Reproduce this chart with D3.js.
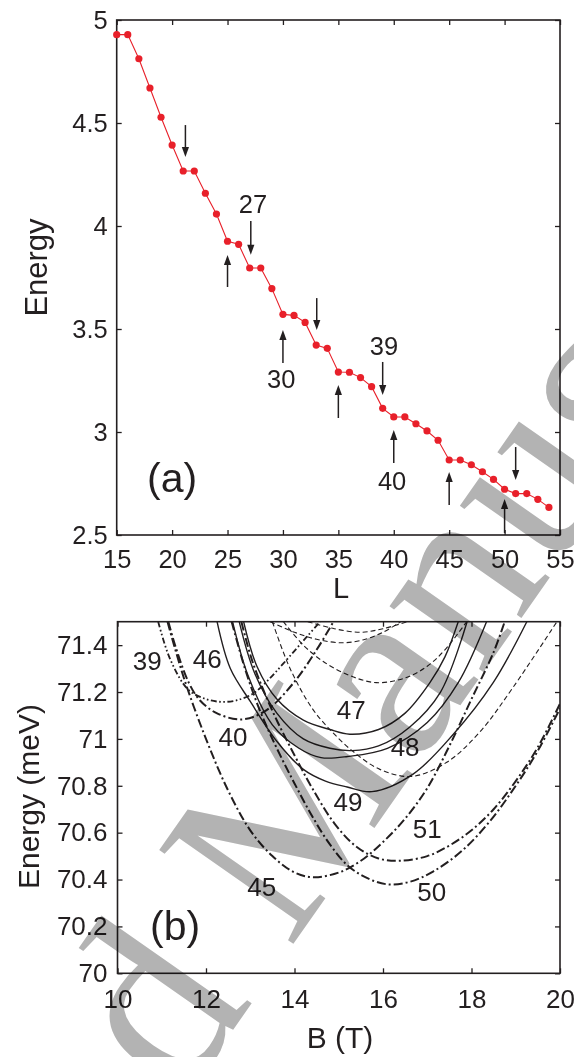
<!DOCTYPE html>
<html><head><meta charset="utf-8">
<script src="https://cdn.jsdelivr.net/npm/d3@7"></script>
<style>body{margin:0;background:#fff}svg{display:block}</style>
</head><body>
<svg id="chart" width="574" height="1057"></svg>
<script>
// ---------- Panel (a) data ----------
const angMom = [15,16,17,18,19,20,21,22,23,24,25,26,27,28,29,30,31,32,33,34,35,36,37,38,39,40,41,42,43,44,45,46,47,48,49,50,51,52,53,54];
const energyA = [4.929,4.929,4.812,4.670,4.528,4.393,4.267,4.267,4.159,4.058,3.926,3.911,3.796,3.796,3.696,3.571,3.566,3.532,3.422,3.406,3.291,3.290,3.264,3.220,3.115,3.073,3.073,3.040,3.005,2.960,2.864,2.864,2.841,2.807,2.770,2.722,2.701,2.701,2.673,2.634];
const xTicksA = [15,20,25,30,35,40,45,50,55];
const xTickLabelsA = ["15","20","25","30","35","40","45","50","55"];
const yTicksA = [2.5,3,3.5,4,4.5,5];
const yTickLabelsA = ["2.5","3","3.5","4","4.5","5"];
// arrows: position in L, start energy, end (tip) energy
const arrowL    = [21.2, 25, 27.1, 30, 33.05, 35, 39, 40, 45, 51, 50];
const arrowFrom = [4.490, 3.704, 4.024, 3.335, 3.650, 3.068, 3.340, 2.850, 2.646, 2.927, 2.510];
const arrowTo   = [4.335, 3.859, 3.860, 3.495, 3.495, 3.228, 3.180, 3.010, 2.806, 2.767, 2.675];
const arrowLabelText = ["27","30","39","40"];
const arrowLabelL    = [27.3, 29.85, 39.12, 39.85];
const arrowLabelE    = [4.063, 3.214, 3.374, 2.718];

// ---------- Panel (b) data: curves as (B, E) pairs ----------
const c45 = [[11.13,71.5],[11.5,71.26],[12.0,71.0],[12.5,70.78],[13.0,70.61],[13.5,70.5],[14.0,70.43],[14.43,70.41],[15.0,70.43],[15.5,70.48],[16.0,70.56],[16.5,70.66],[17.0,70.79],[17.5,70.97],[18.0,71.17],[18.5,71.37],[18.75,71.5]];
const c50 = [[12.58,71.5],[12.88,71.3],[13.22,71.12],[13.6,70.96],[14.0,70.81],[14.4,70.67],[14.8,70.55],[15.2,70.46],[15.6,70.41],[16.08,70.38],[16.6,70.39],[17.14,70.435],[17.8,70.525],[18.42,70.65],[19.0,70.8],[19.5,70.95],[20.0,71.13]];
const c51 = [[12.8,71.5],[13.05,71.33],[13.5,71.12],[14.0,70.93],[14.4,70.79],[14.9,70.64],[15.4,70.54],[15.9,70.49],[16.38,70.48],[17.0,70.5],[17.5,70.545],[18.0,70.61],[18.5,70.7],[19.0,70.82],[19.5,70.965],[20.0,71.15]];
const c39 = [[10.92,71.5],[11.19,71.34],[11.6,71.21],[12.0,71.17],[12.35,71.158],[12.7,71.165],[13.07,71.194],[13.4,71.25],[13.75,71.322],[14.28,71.436],[14.58,71.5]];
const c40 = [[11.15,71.5],[11.3,71.4],[11.61,71.24],[11.86,71.165],[12.24,71.11],[12.81,71.083],[13.37,71.123],[13.97,71.237],[14.5,71.38],[14.88,71.5]];
const s47 = [[12.85,71.5],[13.15,71.31],[13.6,71.17],[14.2,71.08],[14.8,71.04],[15.25,71.02],[15.9,71.04],[16.5,71.11],[17.06,71.24],[17.4,71.35],[17.7,71.5]];
const sB  = [[12.75,71.5],[13.1,71.28],[13.6,71.11],[14.2,71.0],[14.8,70.96],[15.3,70.95],[15.9,70.97],[16.6,71.05],[17.3,71.2],[17.9,71.5]];
const sC  = [[12.6,71.5],[12.95,71.27],[13.5,71.06],[14.1,70.96],[14.6,70.92],[15.2,70.925],[16.1,70.96],[17.0,71.07],[17.7,71.24],[18.34,71.5]];
const s49 = [[12.25,71.5],[12.55,71.3],[13.0,71.16],[13.6,70.99],[14.2,70.87],[14.7,70.82],[15.19,70.795],[15.75,70.775],[16.68,70.85],[17.59,71.02],[18.49,71.24],[19.25,71.5]];
const d48 = [[13.5,71.5],[13.9,71.3],[14.4,71.13],[14.8,71.04],[15.3,70.95],[15.93,70.87],[16.65,70.84],[17.44,70.9],[18.19,71.03],[18.94,71.22],[19.93,71.5]];
const dUp = [[13.75,71.5],[14.2,71.4],[14.65,71.33],[15.25,71.27],[15.85,71.24],[16.5,71.26],[17.0,71.31],[17.4,71.38],[17.89,71.5]];
const dT1 = [[13.45,71.5],[14.0,71.455],[14.5,71.425],[15.1,71.41],[15.6,71.425],[16.0,71.455],[16.4,71.5]];
const dT2 = [[14.3,71.5],[14.9,71.47],[15.5,71.455],[16.0,71.47],[16.55,71.5]];
const xTicksB = [10,12,14,16,18,20];
const xTickLabelsB = ["10","12","14","16","18","20"];
const yTicksB = [70,70.2,70.4,70.6,70.8,71,71.2,71.4];
const yTickLabelsB = ["70","70.2","70.4","70.6","70.8","71","71.2","71.4"];
const curveLabelText = ["39","46","40","45","47","48","49","51","50"];
const curveLabelB    = [10.67, 12.03, 12.61, 13.26, 15.28, 16.50, 15.21, 17.0, 17.1];
const curveLabelE    = [71.295, 71.303, 70.969, 70.328, 71.083, 70.928, 70.694, 70.579, 70.310];

// ---------- drawing ----------
const svg = d3.select('#chart');
const FONT = "'Liberation Sans', Arial, Helvetica, sans-serif";
const INK = "#231f20";
const RED = "#e8202a";

function frameAxes(g, x, y, xt, xl, yt, yl, fs, padX, padY) {
  const [x0, x1] = x.range(), [y0, y1] = y.range();
  g.append('g').attr('transform', `translate(0,${y0})`)
    .call(d3.axisBottom(x).tickValues(xt).tickFormat((d,i)=>xl[i]).tickSize(-5).tickPadding(padX));
  g.append('g').attr('transform', `translate(0,${y1})`)
    .call(d3.axisTop(x).tickValues(xt).tickFormat('').tickSize(-5));
  g.append('g').attr('transform', `translate(${x0},0)`)
    .call(d3.axisLeft(y).tickValues(yt).tickFormat((d,i)=>yl[i]).tickSize(-5).tickPadding(padY));
  g.append('g').attr('transform', `translate(${x1},0)`)
    .call(d3.axisRight(y).tickValues(yt).tickFormat('').tickSize(-5));
  g.selectAll('.domain').remove();
  g.selectAll('.tick line').attr('stroke', INK).attr('stroke-width', 1.3);
  g.selectAll('.tick text').attr('font-family', FONT).attr('font-size', fs).attr('fill', INK);
  g.append('rect').attr('x', x0).attr('y', y1).attr('width', x1 - x0).attr('height', y0 - y1)
    .attr('fill', 'none').attr('stroke', INK).attr('stroke-width', 1.6);
}

// Panel (a)
const xa = d3.scaleLinear().domain([15,55]).range([116.7,560]);
const ya = d3.scaleLinear().domain([2.5,5]).range([535,20]);
const ga = svg.append('g');
frameAxes(ga, xa, ya, xTicksA, xTickLabelsA, yTicksA, yTickLabelsA, 25.5, 15, 9);

ga.append('path').datum(angMom.map((l,i)=>[l, energyA[i]]))
  .attr('d', d3.line().x(d=>xa(d[0])).y(d=>ya(d[1])))
  .attr('fill','none').attr('stroke',RED).attr('stroke-width',1.1);
ga.selectAll('circle.pt').data(angMom).join('circle').attr('class','pt')
  .attr('cx', d=>xa(d)).attr('cy', (d,i)=>ya(energyA[i])).attr('r', 3.6).attr('fill', RED);

// arrows
arrowL.forEach((l,i)=>{
  const x = xa(l), yA = ya(arrowFrom[i]), yB = ya(arrowTo[i]);
  const dir = yB > yA ? 1 : -1, hl = 10, hw = 3.6;
  ga.append('line').attr('x1',x).attr('x2',x).attr('y1',yA).attr('y2',yB - dir*hl + dir*1)
    .attr('stroke',INK).attr('stroke-width',1.5);
  ga.append('path').attr('d', `M${x},${yB} L${x-hw},${yB-dir*hl} L${x+hw},${yB-dir*hl} Z`).attr('fill',INK);
});
arrowLabelText.forEach((t,i)=>{
  ga.append('text').attr('x', xa(arrowLabelL[i])).attr('y', ya(arrowLabelE[i]))
    .attr('text-anchor','middle').attr('font-family',FONT).attr('font-size',25.5).attr('fill',INK).text(t);
});
ga.append('text').attr('x',147).attr('y',492).attr('font-family',FONT).attr('font-size',41).attr('fill',INK).text('(a)');
ga.append('text').attr('transform','translate(47,267.5) rotate(-90)').attr('text-anchor','middle')
  .attr('font-family',FONT).attr('font-size',31).attr('fill',INK).text('Energy');
ga.append('text').attr('x',341).attr('y',598).attr('text-anchor','middle')
  .attr('font-family',FONT).attr('font-size',29).attr('fill',INK).text('L');

// Panel (b)
const xb = d3.scaleLinear().domain([10,20]).range([117.5,560]);
const yb = d3.scaleLinear().domain([70,71.5]).range([973.3,621.7]);
const gb = svg.append('g');
svg.append('defs').append('clipPath').attr('id','clipB').append('rect')
  .attr('x',117.5).attr('y',621.7).attr('width',560-117.5).attr('height',973.3-621.7);

const styles = {
  dd:   {w:2.0, dash:'9,3,2,3'},
  ddd:  {w:1.8, dash:'6,2.5,1.6,2.5,1.6,2.5'},
  solid:{w:1.4, dash:null},
  dash: {w:1.1, dash:'5,3'}
};
const curves = [
  {pts:dT1, s:'dash'}, {pts:dT2, s:'dash'}, {pts:dUp, s:'dash'}, {pts:d48, s:'dash'},
  {pts:s47, s:'solid'}, {pts:sB, s:'solid'}, {pts:sC, s:'solid'}, {pts:s49, s:'solid'},
  {pts:c39, s:'ddd'}, {pts:c40, s:'dd'}, {pts:c45, s:'dd'}, {pts:c50, s:'dd'}, {pts:c51, s:'dd'}
];
const lineB = d3.line().x(d=>xb(d[0])).y(d=>yb(d[1])).curve(d3.curveCatmullRom.alpha(0.5));
const gc = gb.append('g').attr('clip-path','url(#clipB)');
curves.forEach(c=>{
  const st = styles[c.s];
  gc.append('path').attr('d', lineB(c.pts)).attr('fill','none').attr('stroke',INK)
    .attr('stroke-width',st.w).attr('stroke-dasharray',st.dash);
});
frameAxes(gb, xb, yb, xTicksB, xTickLabelsB, yTicksB, yTickLabelsB, 26, 16, 10);
curveLabelText.forEach((t,i)=>{
  gb.append('text').attr('x', xb(curveLabelB[i])).attr('y', yb(curveLabelE[i]))
    .attr('text-anchor','middle').attr('font-family',FONT).attr('font-size',26).attr('fill',INK).text(t);
});
gb.append('text').attr('x',150).attr('y',940).attr('font-family',FONT).attr('font-size',41).attr('fill',INK).text('(b)');
gb.append('text').attr('transform','translate(39,796.5) rotate(-90)').attr('text-anchor','middle')
  .attr('font-family',FONT).attr('font-size',30).attr('fill',INK).text('Energy (meV)');
gb.append('text').attr('x',340).attr('y',1048).attr('text-anchor','middle')
  .attr('font-family',FONT).attr('font-size',30).attr('fill',INK).text('B (T)');

// watermark
svg.append('text').attr('transform','translate(-288,1774) rotate(-55)')
  .attr('font-family',"'Liberation Serif', 'Times New Roman', serif").attr('font-size',250)
  .attr('fill','#b3b3b3').style('mix-blend-mode','multiply').text('Accepted Manuscript');
</script>
</body></html>
